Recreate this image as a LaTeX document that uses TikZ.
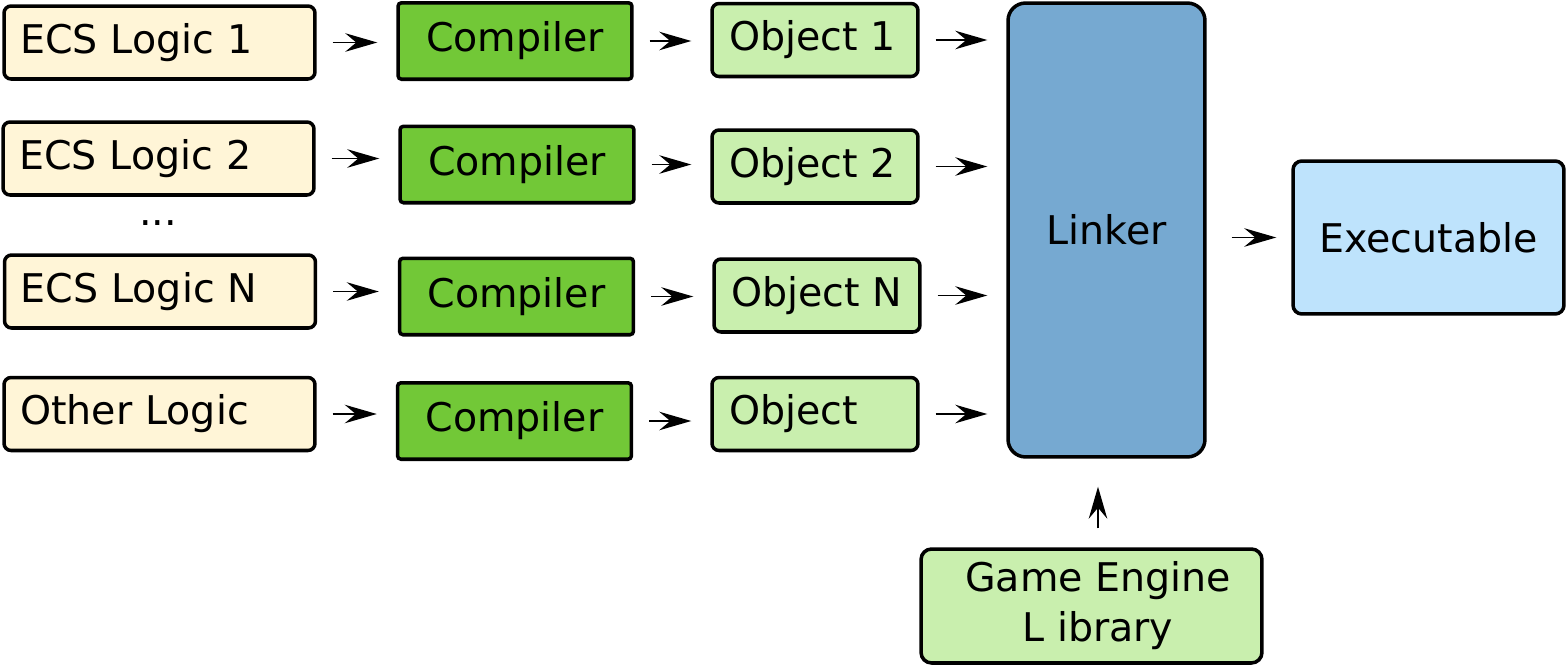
\documentclass[tikz,border=0pt]{standalone}
\usepackage{fontspec}
\setmainfont{DejaVu Sans}
\usepackage{xcolor}
\usetikzlibrary{arrows.meta,positioning,calc}

\definecolor{srcfill}{HTML}{FFF5D7}
\definecolor{compfill}{HTML}{72C837}
\definecolor{objfill}{HTML}{C9EFAE}
\definecolor{linkfill}{HTML}{76A9D1}
\definecolor{exefill}{HTML}{BEE3FC}

\begin{document}
\begin{tikzpicture}[
  x=0.02cm,y=-0.02cm,
  >={Stealth[length=0.64cm,width=0.37cm,inset=0.22cm]},
  font=\fontsize{22.5pt}{28.5pt}\selectfont,
  box/.style={draw, line width=2pt, inner ysep=0pt},
  srcbox/.style={box, fill=srcfill, rounded corners=4pt, align=left, text width=5.58cm, inner xsep=0.32cm, minimum height=1.46cm},
  compbox/.style={box, fill=compfill, rounded corners=2pt, minimum width=4.68cm, minimum height=1.53cm},
  objbox/.style={box, fill=objfill, rounded corners=4pt, align=left, text width=3.44cm, inner xsep=0.34cm, minimum height=1.46cm},
  arrow/.style={->, line width=1.1pt, shorten <=0.32cm, shorten >=0.38cm}
]
\useasboundingbox (0,0) rectangle (1566,666);

% Sources.
\node[srcbox] (src1) at (159.5,42.5) {ECS Logic 1};
\node[srcbox] (src2) at (158.5,158.5) {ECS Logic 2};
\node[anchor=base] (dots) at (158,225) {...};
\node[srcbox] (srcN) at (160,291.5) {ECS Logic N};
\node[srcbox] (srcO) at (159.5,414) {Other Logic};

% Compilers.
\node[compbox] (comp1) at (515,41) {Compiler};
\node[compbox] (comp2) at (517,164.5) {Compiler};
\node[compbox] (compN) at (516.5,296.5) {Compiler};
\node[compbox] (compO) at (514.5,421) {Compiler};

% Objects.
\node[objbox] (obj1) at (815,40) {Object 1};
\node[objbox] (obj2) at (815,166.5) {Object 2};
\node[objbox] (objN) at (817,295.5) {Object N};
\node[objbox] (objO) at (815,414) {Object};

% Linking.
\node[box, fill=linkfill, rounded corners=10pt, minimum width=3.94cm, minimum height=9.08cm] (linker) at (1106.5,230) {Linker};
\node[box, fill=exefill, rounded corners=5pt, minimum width=5.42cm, minimum height=3.06cm] (exe) at (1428.5,237.5) {Executable};
\node[box, fill=objfill, rounded corners=6pt, align=center, minimum width=6.82cm, minimum height=2.28cm] (game) at (1091.5,606) {\hspace*{0.26cm}Game Engine\\\hspace*{0.26cm}L ibrary};

\foreach \row in {1,2,N,O} {
  \draw[arrow] (src\row.east) -- (src\row.east -| comp\row.west);
  \draw[arrow] (comp\row.east) -- (comp\row.east -| obj\row.west);
  \draw[arrow] (obj\row.east) -- (obj\row.east -| linker.west);
}
\draw[arrow, shorten <=0.5cm, shorten >=0.3cm] (linker.east |- exe) -- (exe.west);
\draw[arrow, shorten <=0.38cm, shorten >=0.56cm] ([xshift=0.13cm]game.north) -- ([xshift=0.13cm]game.north |- linker.south);
\end{tikzpicture}
\end{document}
